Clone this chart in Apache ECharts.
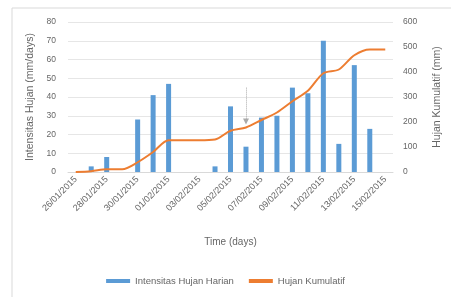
<!DOCTYPE html>
<html><head><meta charset="utf-8">
<script src="https://cdn.jsdelivr.net/npm/echarts@6/dist/echarts.min.js"></script>
<style>html,body{margin:0;padding:0;background:#fff}#c{width:451px;height:297px}</style>
</head><body><div id="c"></div>
<script>
const categories = ['26/01/2015','27/01/2015','28/01/2015','29/01/2015','30/01/2015','31/01/2015','01/02/2015','02/02/2015','03/02/2015','04/02/2015','05/02/2015','06/02/2015','07/02/2015','08/02/2015','09/02/2015','10/02/2015','11/02/2015','12/02/2015','13/02/2015','14/02/2015','15/02/2015'];
const dailyRain = [null,3,8,null,28,41,47,null,null,3,35,13.5,29,30,45,42,70,15,57,23,null];
const cumulativeRain = [0,3,11,11,39,80,127,127,127,130,165,178,208,238,283,325,395,410,467,490,490];
const leftTicks = {min:0,max:80,interval:10};
const rightTicks = {min:0,max:600,interval:100};
const font = 'Liberation Sans';
const gray = '#666666';
const chart = echarts.init(document.getElementById('c'));
chart.setOption({
  animation:false,
  textStyle:{fontFamily:font},
  graphic:[{type:'rect',shape:{x:12,y:8,width:460,height:300},style:{fill:'none',stroke:'#d9d9d9',lineWidth:1},silent:true}],
  grid:{left:68,right:58,top:22,bottom:125},
  legend:{bottom:6,left:'center',itemWidth:24,itemHeight:4,itemGap:15,
    textStyle:{fontSize:9.5,color:gray,fontFamily:font},
    data:[{name:'Intensitas Hujan Harian',icon:'rect'},{name:'Hujan Kumulatif',icon:'rect'}]},
  xAxis:{type:'category',data:categories,boundaryGap:true,
    name:'Time (days)',nameLocation:'middle',nameGap:65,
    nameTextStyle:{fontSize:10,color:gray,fontFamily:font},
    axisLine:{lineStyle:{color:'#d9d9d9'}},axisTick:{show:false},
    axisLabel:{interval:1,rotate:45,fontSize:9,color:gray,margin:6,fontFamily:font}},
  yAxis:[{type:'value',min:leftTicks.min,max:leftTicks.max,interval:leftTicks.interval,
    name:'Intensitas Hujan (mm/days)',nameLocation:'middle',nameGap:25,nameRotate:90,
    nameTextStyle:{fontSize:10.5,color:gray,fontFamily:font},
    axisLabel:{fontSize:8.5,color:gray,margin:12},
    splitLine:{lineStyle:{color:'#e6e6e6'}},axisLine:{show:false},axisTick:{show:false}},
   {type:'value',min:rightTicks.min,max:rightTicks.max,interval:rightTicks.interval,
    name:'Hujan Kumulatif (mm)',nameLocation:'middle',nameGap:39,nameRotate:90,
    nameTextStyle:{fontSize:10.5,color:gray,fontFamily:font},
    axisLabel:{fontSize:8.5,color:gray,margin:10},
    splitLine:{show:false},axisLine:{show:false},axisTick:{show:false}}],
  series:[
   {name:'Intensitas Hujan Harian',type:'bar',data:dailyRain,barWidth:5,yAxisIndex:0,
    itemStyle:{color:'#5b9bd5'},
    markLine:{silent:true,symbol:['none','triangle'],symbolSize:6,label:{show:false},
      lineStyle:{color:'#aaaaaa',type:'dotted',width:1},
      data:[[{coord:['06/02/2015',45]},{coord:['06/02/2015',27]}]]}},
   {name:'Hujan Kumulatif',type:'line',data:cumulativeRain,yAxisIndex:1,smooth:0.3,
    showSymbol:false,lineStyle:{color:'#ed7d31',width:2},itemStyle:{color:'#ed7d31'}}
  ]
});
</script></body></html>
